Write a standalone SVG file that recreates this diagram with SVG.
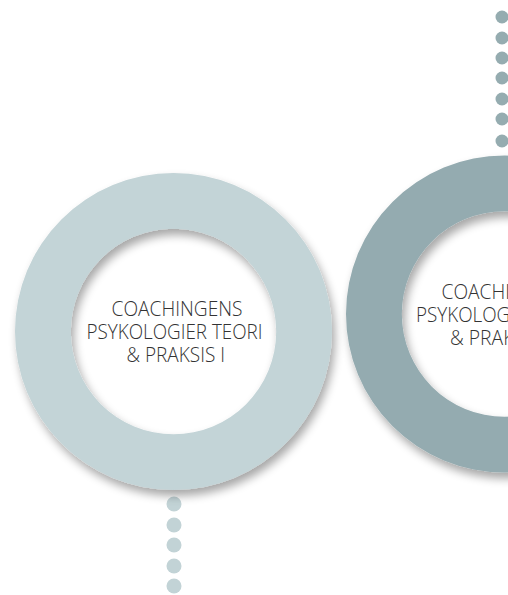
<svg xmlns="http://www.w3.org/2000/svg" width="508" height="595" viewBox="0 0 508 595">
<style>
.lbl{font-family:"Open Sans","Liberation Sans",sans-serif;font-weight:300;font-size:20px;fill:#333333}
.dt1{fill:#95acb0}
.dt2{fill:#c2d3d6}
</style>
<defs>
<filter id="sh" x="-20%" y="-20%" width="140%" height="140%">
<feGaussianBlur in="SourceAlpha" stdDeviation="5"/>
<feOffset dx="3" dy="6" result="b"/>
<feComponentTransfer><feFuncA type="linear" slope="0.35"/></feComponentTransfer>
<feMerge><feMergeNode/><feMergeNode in="SourceGraphic"/></feMerge>
</filter>
</defs>
<rect width="508" height="595" fill="#ffffff"/>
<g id="connectors">
<g id="dots-top">
<circle class="dt1" cx="502" cy="17" r="6.5"/>
<circle class="dt1" cx="502" cy="38" r="6.5"/>
<circle class="dt1" cx="502" cy="58" r="6.5"/>
<circle class="dt1" cx="502" cy="78" r="6.5"/>
<circle class="dt1" cx="502" cy="99" r="6.5"/>
<circle class="dt1" cx="502" cy="119" r="6.5"/>
<circle class="dt1" cx="502" cy="141" r="6.5"/>
</g>
<g id="dots-bottom">
<circle class="dt2" cx="174" cy="504" r="7.5"/>
<circle class="dt2" cx="174" cy="525" r="7.5"/>
<circle class="dt2" cx="174" cy="545" r="7.5"/>
<circle class="dt2" cx="174" cy="566" r="7.5"/>
<circle class="dt2" cx="174" cy="586" r="7.5"/>
</g>
</g>
<g id="node1">
<path filter="url(#sh)" fill="#c3d4d7" fill-rule="evenodd" d="M15,331.5a158.5,158.5 0 1,0 317,0a158.5,158.5 0 1,0 -317,0Z M70.8,331.5a102.7,102.7 0 1,0 205.4,0a102.7,102.7 0 1,0 -205.4,0Z"/>
<text class="lbl" x="111.5" y="316" textLength="131" lengthAdjust="spacingAndGlyphs">COACHINGENS</text>
<text class="lbl" x="86.5" y="338.5" textLength="176" lengthAdjust="spacingAndGlyphs">PSYKOLOGIER TEORI</text>
<text class="lbl" x="126.5" y="361.5" textLength="98.5" lengthAdjust="spacingAndGlyphs">&amp; PRAKSIS I</text>
</g>
<g id="node2">
<path filter="url(#sh)" fill="#94abb0" fill-rule="evenodd" d="M346,314a158.5,158.5 0 1,0 317,0a158.5,158.5 0 1,0 -317,0Z M401.8,314a102.7,102.7 0 1,0 205.4,0a102.7,102.7 0 1,0 -205.4,0Z"/>
<text class="lbl" x="441.5" y="298.5" textLength="131" lengthAdjust="spacingAndGlyphs">COACHINGENS</text>
<text class="lbl" x="416" y="321.5" textLength="176" lengthAdjust="spacingAndGlyphs">PSYKOLOGIER TEORI</text>
<text class="lbl" x="450" y="344.5" textLength="105" lengthAdjust="spacingAndGlyphs">&amp; PRAKSIS II</text>
</g>
</svg>
